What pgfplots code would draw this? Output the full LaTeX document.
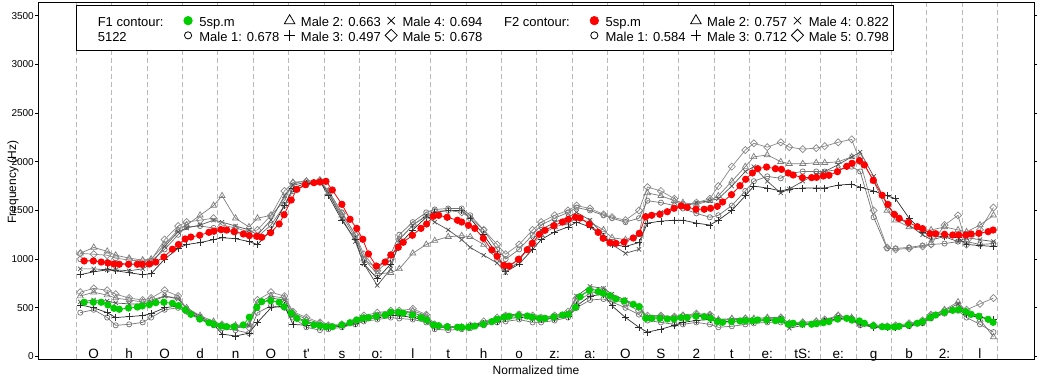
\documentclass[border=0pt]{standalone}
\usepackage{pgfplots}
\usepackage{pgfplotstable}
\pgfplotsset{compat=1.18}
\usepackage{fontspec}
\setmainfont{Liberation Sans}
\definecolor{mygreen}{RGB}{0,205,0}
\definecolor{myred}{RGB}{255,0,0}
\definecolor{ga}{RGB}{115,115,115}
\definecolor{gb}{RGB}{125,125,125}
\definecolor{gc}{RGB}{45,45,45}
\definecolor{gd}{RGB}{85,85,85}
\definecolor{ge}{RGB}{135,135,135}
\pgfplotsset{
  limg/.style={legend image code/.code={\path[draw=none,fill=none] (0pt,-3pt) rectangle (18pt,3pt); \draw[##1] plot coordinates {(6.7pt,0pt)};}},
  textonly/.style={legend image code/.code={\path[draw=none,fill=none] (0pt,-3pt) rectangle (18pt,3pt);}},
  sa/.style={ga, line width=0.7pt, mark=o, mark size=2.6pt, mark options={solid}},
  sb/.style={gb, line width=0.7pt, mark=triangle, mark size=3.5pt, mark options={solid}},
  sc/.style={gc, line width=0.7pt, mark=+, mark size=3.5pt, mark options={solid}},
  sd/.style={gd, line width=0.7pt, mark=x, mark size=3pt, mark options={solid}},
  se/.style={ge, line width=0.7pt, mark=square, mark size=2.5pt, mark options={solid,rotate=45}},
}
\pgfplotstableread{
t f1 f2
0.23 557 981
0.49 557 981
0.71 557 970
0.90 529 960
1.07 495 950
1.22 485 947
1.48 498 947
1.73 508 947
1.87 519 947
2.07 532 950
2.25 553 970
2.48 557 1022
2.72 546 1101
2.89 522 1150
3.08 478 1207
3.24 433 1227
3.49 385 1245
3.75 347 1275
3.89 331 1286
4.09 313 1303
4.25 306 1299
4.46 306 1282
4.72 324 1258
4.89 403 1241
5.10 505 1234
5.24 563 1224
5.49 573 1272
5.73 557 1361
5.87 512 1456
6.07 444 1607
6.23 392 1717
6.47 351 1765
6.71 324 1785
6.88 316 1792
7.05 306 1799
7.23 306 1710
7.50 324 1563
7.73 347 1409
7.92 375 1316
8.09 392 1204
8.25 399 1053
8.47 413 929
8.72 425 970
8.88 455 1042
9.09 454 1121
9.23 445 1173
9.49 426 1245
9.73 399 1316
9.89 375 1361
10.08 324 1440
10.23 316 1450
10.47 306 1430
10.76 300 1399
10.88 300 1381
11.07 300 1347
11.25 313 1316
11.49 331 1214
11.73 358 1094
11.88 382 1029
12.07 403 937
12.22 413 929
12.48 419 998
12.73 416 1097
12.87 403 1162
13.07 392 1255
13.23 392 1296
13.48 406 1343
13.72 426 1381
13.89 433 1409
14.09 505 1430
14.22 614 1422
14.48 680 1357
14.73 666 1275
14.87 649 1214
15.06 624 1169
15.23 591 1162
15.46 570 1176
15.72 536 1217
15.89 512 1265
16.07 392 1436
16.24 392 1450
16.47 392 1460
16.68 385 1487
16.87 385 1522
17.07 399 1546
17.24 399 1532
17.49 413 1512
17.72 409 1512
17.90 392 1522
18.09 358 1542
18.24 351 1587
18.49 358 1662
18.73 365 1754
18.89 368 1820
19.08 368 1885
19.23 375 1929
19.48 375 1946
19.73 368 1929
19.90 375 1922
20.09 331 1885
20.23 341 1864
20.49 334 1837
20.75 331 1837
20.89 337 1840
21.08 347 1854
21.24 358 1861
21.48 385 1898
21.74 392 1953
21.89 375 1984
22.10 365 2011
22.24 341 1967
22.49 316 1810
22.74 306 1656
22.90 303 1563
23.08 303 1460
23.22 310 1419
23.48 324 1378
23.73 341 1333
23.88 358 1313
24.09 399 1261
24.25 426 1261
24.50 454 1255
24.73 474 1248
24.90 481 1248
25.10 460 1248
25.25 433 1258
25.47 413 1265
25.73 382 1282
25.87 351 1299
}\meantab
\pgfplotstableread{
t a b c d e
0.12 1000 1060 840 900 1060
0.50 980 1120 870 900 1050
0.88 970 1080 890 890 1040
1.12 960 1040 880 890 1010
1.50 950 1010 860 880 990
1.88 950 990 840 900 980
2.12 980 1000 850 950 990
2.50 1100 1150 1000 1130 1200
2.88 1250 1300 1110 1280 1340
3.12 1330 1350 1150 1320 1380
3.50 1340 1450 1170 1350 1400
3.88 1320 1550 1200 1400 1420
4.12 1300 1650 1220 1380 1350
4.50 1280 1420 1210 1340 1320
4.88 1250 1330 1180 1300 1280
5.12 1230 1420 1150 1250 1300
5.50 1350 1450 1300 1400 1450
5.88 1550 1600 1550 1650 1700
6.12 1700 1790 1730 1760 1780
6.50 1760 1800 1780 1790 1800
6.88 1790 1810 1800 1800 1810
7.12 1700 1680 1650 1680 1700
7.50 1480 1450 1400 1420 1470
7.88 1250 1220 1200 1180 1250
8.12 1000 1000 950 950 1050
8.50 900 850 800 730 880
8.88 1050 860 950 900 1000
9.12 1250 900 1150 1200 1200
9.50 1380 1060 1300 1350 1350
9.88 1480 1150 1430 1440 1450
10.12 1510 1190 1480 1380 1490
10.50 1520 1230 1500 1300 1500
10.88 1520 1240 1500 1200 1480
11.12 1450 1230 1420 1120 1420
11.50 1300 1150 1250 1040 1300
11.88 1100 1000 1050 960 1150
12.12 1000 900 870 860 1050
12.50 1100 1000 950 980 1150
12.88 1250 1150 1100 1200 1300
13.12 1350 1250 1200 1300 1380
13.50 1420 1330 1280 1380 1450
13.88 1480 1370 1330 1430 1500
14.12 1530 1420 1380 1480 1550
14.50 1500 1380 1330 1400 1520
14.88 1450 1300 1230 1250 1460
15.12 1420 1220 1150 1150 1430
15.50 1380 1200 1130 1060 1400
15.88 1420 1250 1170 1100 1500
16.12 1600 1680 1370 1450 1740
16.50 1580 1650 1390 1480 1700
16.88 1550 1600 1400 1520 1620
17.12 1520 1580 1400 1540 1560
17.50 1470 1560 1370 1580 1580
17.88 1430 1600 1350 1600 1620
18.12 1450 1650 1400 1620 1750
18.50 1550 1800 1500 1750 1950
18.88 1700 1950 1650 1900 2120
19.12 1800 2050 1750 1950 2190
19.50 1850 2070 1730 1800 2150
19.88 1830 2000 1700 1680 2200
20.12 1880 1980 1720 1720 2150
20.50 1900 1980 1730 1800 2130
20.88 1900 1990 1730 1870 2140
21.12 1900 1990 1730 1900 2160
21.50 1920 2000 1760 1970 2200
21.88 1950 2050 1770 2050 2230
22.12 1900 2050 1740 2100 2000
22.50 1430 1800 1700 1850 1500
22.88 1110 1500 1650 1550 1120
23.12 1110 1400 1620 1450 1100
23.50 1120 1330 1420 1350 1110
23.88 1140 1300 1280 1250 1130
24.12 1150 1300 1240 1200 1150
24.50 1160 1330 1230 1230 1350
24.88 1180 1300 1220 1180 1450
25.12 1180 1280 1150 1220 1150
25.50 1150 1350 1140 1200 1300
25.88 1160 1450 1130 1180 1530
}\ftwotab
\pgfplotstableread{
t a b c d e
0.12 450 620 530 560 660
0.50 480 660 500 580 700
0.88 400 630 450 570 680
1.12 320 600 400 550 640
1.50 330 580 410 540 600
1.88 350 560 420 540 580
2.12 400 580 440 560 600
2.50 480 620 500 620 680
2.88 500 600 520 590 620
3.12 460 500 470 490 480
3.50 380 420 390 410 400
3.88 320 360 330 340 340
4.12 290 320 230 300 330
4.50 270 320 210 290 310
4.88 240 330 240 320 300
5.12 450 550 350 520 580
5.50 520 620 500 600 660
5.88 500 600 520 580 620
6.12 400 450 330 420 460
6.50 300 380 320 360 400
6.88 270 340 310 320 350
7.12 280 310 300 310 320
7.50 300 320 310 320 330
7.88 330 350 340 350 370
8.12 360 400 380 400 420
8.50 380 420 400 430 450
8.88 400 440 420 450 470
9.12 390 450 420 460 470
9.50 380 470 400 450 490
9.88 350 420 370 400 430
10.12 280 310 300 320 330
10.50 270 300 300 310 300
10.88 280 300 300 300 300
11.12 290 300 310 320 320
11.50 320 330 340 350 360
11.88 350 370 360 390 400
12.12 360 410 390 420 420
12.50 380 430 400 440 430
12.88 350 400 390 410 420
13.12 350 380 380 400 400
13.50 370 400 390 420 420
13.88 400 430 410 450 460
14.12 500 560 520 620 600
14.50 580 650 620 720 690
14.88 590 670 640 700 680
15.12 560 620 520 640 600
15.50 500 570 400 580 540
15.88 430 500 300 520 470
16.12 370 400 250 400 420
16.50 350 410 280 410 420
16.88 330 400 320 400 410
17.12 330 420 350 410 420
17.50 350 430 370 420 440
17.88 330 420 380 420 430
18.12 300 380 360 370 370
18.50 310 390 360 380 380
18.88 330 390 370 380 390
19.12 340 390 360 370 380
19.50 350 400 370 380 390
19.88 350 400 380 390 400
20.12 330 340 320 290 340
20.50 330 350 330 320 350
20.88 340 360 340 340 360
21.12 360 370 360 370 380
21.50 380 420 390 410 420
21.88 370 400 380 390 390
22.12 320 330 330 340 340
22.50 310 310 300 310 320
22.88 300 300 300 300 310
23.12 300 310 300 310 320
23.50 310 330 320 330 340
23.88 340 360 350 350 370
24.12 390 420 400 420 430
24.50 440 480 450 470 470
24.88 470 560 480 540 490
25.12 400 460 430 450 480
25.50 330 380 400 420 540
25.88 250 200 380 350 600
}\fonetab
\begin{document}
\begin{tikzpicture}
\useasboundingbox (-38pt,-22pt) rectangle (1002pt,359pt);
\begin{axis}[
  at={(0pt,0pt)}, anchor=south west,
  scale only axis, width=996pt, height=357pt,
  xmin=-1.072, xmax=27.024, ymin=-26, ymax=3641,
  axis line style={black, line width=1pt},
  xtick={0,1,...,26}, xticklabels={},
  xtick style={draw=none},
  xmajorgrids=true,
  major grid style={gray!55, dash pattern=on 5pt off 3pt, line width=0.8pt},
  extra x ticks={0.5,1.5,...,25.5},
  extra x tick labels={O,h,O,d,n,O,t\textquotesingle,s,o:,l,t,h,o,z:,a:,O,S,2,t,e:,tS:,e:,g,b,2:,l},
  extra x tick style={grid=none, xticklabel style={anchor=base, yshift=3.2pt, font=\fontsize{13.5}{16}\selectfont}},
  ytick={0,500,...,3500},
  ytick style={black, line width=0.8pt},
  tick align=outside, major tick length=3pt,
  yticklabel style={font=\fontsize{10}{12}\selectfont, inner sep=1pt},
  /pgf/number format/assume math mode=true,
  /pgf/number format/1000 sep={},
  xlabel={Normalized time},
  xlabel style={at={(axis description cs:0.5,0)}, anchor=north, yshift=-7pt, inner sep=0pt, font=\fontsize{12}{14}\selectfont},
  ylabel={Frequency (Hz)},
  ylabel style={at={(axis description cs:-0.0251,0.495)}, anchor=center, inner sep=0pt, font=\fontsize{12}{14}\selectfont},
  legend columns=8,
  legend cell align=left,
  legend style={at={(axis description cs:0.03815,0.9916)}, anchor=north west,
    draw=black, line width=1pt, fill=white, inner xsep=3.3pt, inner ysep=9pt,
    column sep=0pt, row sep=2.4pt, font=\fontsize{13}{15}\selectfont,
    nodes={inner sep=0pt, text height=12pt, text depth=0.3pt}},
]
% F1 speakers
\addplot[sa, forget plot] table[x=t,y=a]{\fonetab};
\addplot[sb, forget plot] table[x=t,y=b]{\fonetab};
\addplot[sc, forget plot] table[x=t,y=c]{\fonetab};
\addplot[sd, forget plot] table[x=t,y=d]{\fonetab};
\addplot[se, forget plot] table[x=t,y=e]{\fonetab};
% F2 speakers
\addplot[sa, forget plot] table[x=t,y=a]{\ftwotab};
\addplot[sb, forget plot] table[x=t,y=b]{\ftwotab};
\addplot[sc, forget plot] table[x=t,y=c]{\ftwotab};
\addplot[sd, forget plot] table[x=t,y=d]{\ftwotab};
\addplot[se, forget plot] table[x=t,y=e]{\ftwotab};
% means
\addplot[mygreen, line width=0.8pt, mark=*, mark size=3.2pt, forget plot] table[x=t,y=f1]{\meantab};
\addplot[myred, line width=0.8pt, mark=*, mark size=3.2pt, forget plot] table[x=t,y=f2]{\meantab};
% legend
\addlegendimage{textonly}
\addlegendentry{\makebox[83.57pt][l]{F1 contour:}}
\addlegendimage{limg, only marks, mark=*, mark size=4.3pt, mygreen, line width=0.6pt}
\addlegendentry{\makebox[83.57pt][l]{5sp.m}}
\addlegendimage{limg, only marks, mark=triangle, mark size=6pt, black, line width=0.8pt}
\addlegendentry{\makebox[83.57pt][l]{Male 2: 0.663}}
\addlegendimage{limg, only marks, mark=x, mark size=5.2pt, black, line width=0.8pt}
\addlegendentry{\makebox[83.57pt][l]{Male 4: 0.694}}
\addlegendimage{textonly}
\addlegendentry{\makebox[83.57pt][l]{F2 contour:}}
\addlegendimage{limg, only marks, mark=*, mark size=4.3pt, myred, line width=0.6pt}
\addlegendentry{\makebox[83.57pt][l]{5sp.m}}
\addlegendimage{limg, only marks, mark=triangle, mark size=6pt, black, line width=0.8pt}
\addlegendentry{\makebox[83.57pt][l]{Male 2: 0.757}}
\addlegendimage{limg, only marks, mark=x, mark size=5.2pt, black, line width=0.8pt}
\addlegendentry{\makebox[81.4pt][l]{Male 4: 0.822}}
\addlegendimage{textonly}
\addlegendentry{\makebox[83.57pt][l]{5122}}
\addlegendimage{limg, only marks, mark=o, mark size=3.6pt, black, line width=0.8pt}
\addlegendentry{\makebox[83.57pt][l]{Male 1: 0.678}}
\addlegendimage{limg, only marks, mark=+, mark size=5.3pt, black, line width=0.8pt}
\addlegendentry{\makebox[83.57pt][l]{Male 3: 0.497}}
\addlegendimage{limg, only marks, mark=square, mark size=4.3pt, mark options={rotate=45}, black, line width=0.8pt}
\addlegendentry{\makebox[83.57pt][l]{Male 5: 0.678}}
\addlegendimage{textonly}
\addlegendentry{\makebox[83.57pt][l]{}}
\addlegendimage{limg, only marks, mark=o, mark size=3.6pt, black, line width=0.8pt}
\addlegendentry{\makebox[83.57pt][l]{Male 1: 0.584}}
\addlegendimage{limg, only marks, mark=+, mark size=5.3pt, black, line width=0.8pt}
\addlegendentry{\makebox[83.57pt][l]{Male 3: 0.712}}
\addlegendimage{limg, only marks, mark=square, mark size=4.3pt, mark options={rotate=45}, black, line width=0.8pt}
\addlegendentry{\makebox[81.4pt][l]{Male 5: 0.798}}
\end{axis}
\end{tikzpicture}
\end{document}
